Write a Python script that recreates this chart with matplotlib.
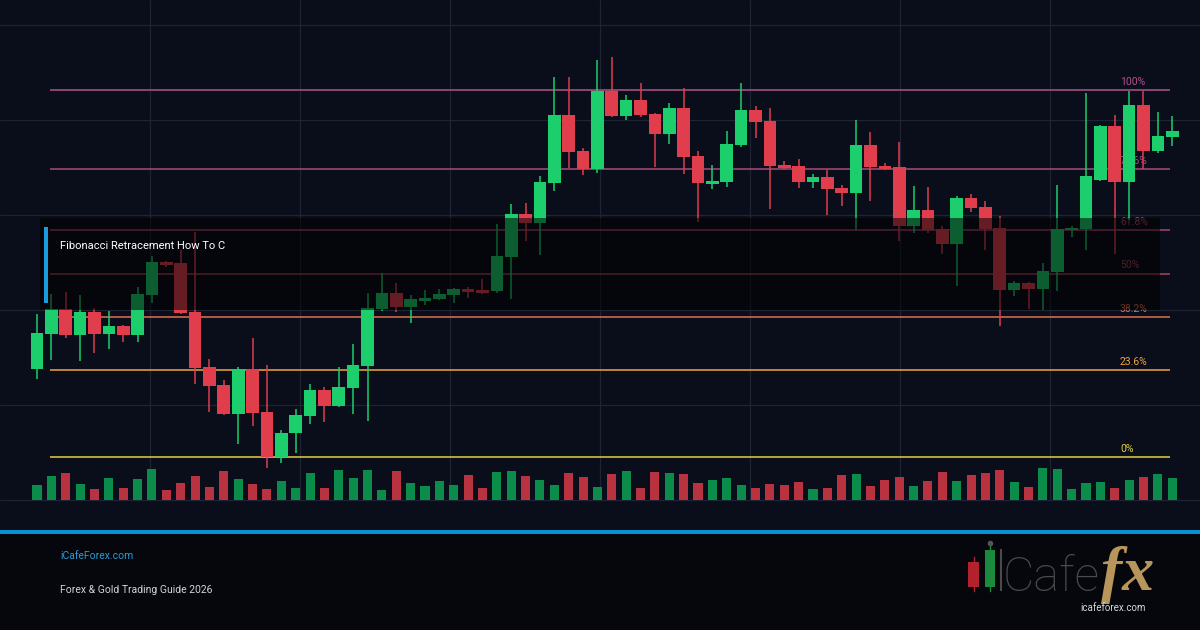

# candlestick chart with fibonacci retracement levels (icafeforex banner)
import numpy as np
import matplotlib
matplotlib.use("Agg")
import matplotlib.pyplot as plt
from matplotlib.patches import Rectangle
from matplotlib.transforms import blended_transform_factory

# DATA:
opens = [2131, 2166, 2191, 2165, 2188, 2166, 2174, 2165, 2205, 2238,
         2237, 2188, 2133, 2115, 2086, 2131, 2088, 2043, 2067, 2084,
         2110, 2094, 2112, 2134, 2191, 2207, 2193, 2199, 2201, 2205,
         2211, 2210, 2209, 2243, 2286, 2277, 2317, 2385, 2349, 2331,
         2409, 2384, 2400, 2386, 2366, 2392, 2344, 2316, 2318, 2355,
         2390, 2379, 2335, 2334, 2318, 2323, 2312, 2307, 2355, 2334,
         2333, 2274, 2290, 2271, 2256, 2302, 2293, 2272, 2210, 2217,
         2211, 2228, 2270, 2271, 2320, 2374, 2318, 2395, 2349, 2363]
closes = [2167, 2191, 2165, 2188, 2166, 2174, 2165, 2206, 2238, 2235,
          2187, 2132, 2114, 2086, 2131, 2087, 2043, 2067, 2085, 2110,
          2094, 2113, 2135, 2192, 2207, 2193, 2201, 2202, 2206, 2211,
          2208, 2207, 2244, 2286, 2277, 2318, 2385, 2348, 2331, 2409,
          2384, 2400, 2385, 2366, 2392, 2343, 2317, 2319, 2356, 2390,
          2378, 2334, 2332, 2318, 2323, 2311, 2307, 2355, 2333, 2331,
          2274, 2290, 2270, 2256, 2302, 2292, 2271, 2210, 2217, 2211,
          2229, 2271, 2272, 2324, 2374, 2318, 2395, 2349, 2364, 2369]
highs = [2186, 2206, 2208, 2205, 2192, 2189, 2175, 2213, 2244, 2239,
         2250, 2268, 2141, 2120, 2133, 2162, 2135, 2070, 2091, 2116,
         2113, 2133, 2156, 2207, 2227, 2217, 2205, 2210, 2211, 2212,
         2213, 2221, 2276, 2296, 2297, 2324, 2423, 2423, 2352, 2440,
         2443, 2405, 2417, 2387, 2397, 2412, 2349, 2335, 2369, 2417,
         2394, 2392, 2339, 2341, 2326, 2330, 2315, 2380, 2368, 2337,
         2358, 2314, 2313, 2274, 2304, 2306, 2299, 2284, 2219, 2218,
         2237, 2315, 2274, 2407, 2375, 2385, 2409, 2409, 2388, 2384]
lows = [2121, 2140, 2162, 2139, 2147, 2151, 2158, 2158, 2197, 2233,
        2186, 2116, 2088, 2085, 2056, 2074, 2032, 2037, 2047, 2076,
        2078, 2093, 2086, 2079, 2189, 2188, 2177, 2195, 2200, 2197,
        2202, 2206, 2207, 2201, 2259, 2245, 2309, 2332, 2325, 2327,
        2383, 2380, 2383, 2333, 2356, 2326, 2278, 2311, 2313, 2353,
        2362, 2291, 2331, 2312, 2312, 2285, 2294, 2270, 2299, 2330,
        2259, 2267, 2267, 2246, 2214, 2288, 2250, 2174, 2204, 2191,
        2190, 2209, 2263, 2250, 2319, 2246, 2280, 2331, 2347, 2354]
volume = [15, 24, 27, 16, 11, 22, 12, 21, 31, 10,
          17, 24, 13, 29, 21, 16, 11, 19, 12, 27,
          12, 30, 22, 30, 10, 29, 17, 14, 19, 15,
          25, 12, 28, 29, 24, 20, 15, 27, 23, 13,
          26, 29, 12, 28, 27, 26, 17, 20, 22, 15,
          12, 16, 15, 18, 11, 12, 25, 26, 14, 20,
          23, 14, 19, 28, 19, 25, 27, 30, 18, 13,
          32, 31, 11, 17, 18, 12, 20, 23, 26, 22]

fib_low = 2043
fib_high = 2410
fib_ratios = [0, 0.236, 0.382, 0.5, 0.618, 0.786, 1.0]
fib_labels = ["0%", "23.6%", "38.2%", "50%", "61.8%", "78.6%", "100%"]
fib_colors = ["#e6cf45", "#f0a63e", "#e2704c", "#a84456", "#a8466e", "#a94b7c", "#b0528c"]

grid_prices = [2475, 2380, 2285, 2190, 2095, 2000]

title = "Fibonacci Retracement How To C"
site = "iCafeForex.com"
subtitle = "Forex & Gold Trading Guide 2026"

# COLORS:
bg = "#0a0e1a"
footer_bg = "#05070d"
up_col = "#1ccf6c"
down_col = "#e03e4d"
vol_up = "#0c8c4b"
vol_down = "#b8333f"
grid_col = "#1e2434"

W, H = 1200, 630
step = 14.37      # px between candles
x0 = 37           # px of first candle

fig = plt.figure(figsize=(12, 6.3), dpi=100)
fig.patch.set_facecolor(bg)

# main price axes fills the whole figure
ax = fig.add_axes([0, 0, 1, 1])
ax.set_facecolor(bg)
ax.set_xlim(-x0 / step, (W - x0) / step)
ax.set_ylim(2500 - H, 2500)
ax.axis("off")

x = np.arange(len(opens))
o = np.array(opens, dtype=float)
c = np.array(closes, dtype=float)
up = c >= o
colors = np.where(up, up_col, down_col)

# grid
ax.hlines(grid_prices, 0, 1, transform=ax.get_yaxis_transform(), colors=grid_col, lw=0.9, zorder=0)
vx = np.arange(150, 1200, 150) / W
ax.vlines(vx, (H - 500) / H, 1, transform=ax.transAxes, colors=grid_col, lw=0.9, zorder=0)

# fibonacci levels
trans = blended_transform_factory(ax.transAxes, ax.transData)
for r, lab, col in zip(fib_ratios, fib_labels, fib_colors):
    lvl = fib_low + r * (fib_high - fib_low)
    ax.hlines(lvl, 50 / W, 1170 / W, transform=trans, colors=col, lw=1.1, zorder=1)
    ax.text(1120 / W, lvl + 8, lab, transform=trans, color=col, fontsize=7.5,
            family="Roboto", va="center", ha="left", zorder=1.5)

# candles
ax.vlines(x, lows, highs, colors=colors, lw=1.1, zorder=2)
body = np.maximum(np.abs(c - o), 1.5)
ax.bar(x, body, bottom=np.minimum(o, c), width=0.88, color=colors, zorder=3)

# volume
vax = fig.add_axes([0, (H - 500) / H, 1, 100 / H])
vax.set_xlim(ax.get_xlim())
vax.set_ylim(0, 100)
vax.axis("off")
vax.patch.set_alpha(0)
vax.bar(x, volume, width=0.63, color=np.where(up, vol_up, vol_down))

# overlay / decorations in pixel coordinates
dax = fig.add_axes([0, 0, 1, 1])
dax.set_xlim(0, W)
dax.set_ylim(H, 0)
dax.axis("off")
dax.patch.set_alpha(0)

dax.add_patch(Rectangle((40, 218), 1120, 92, color="black", alpha=0.55, lw=0))
dax.add_patch(Rectangle((44, 227), 4, 76, color="#1a9bdc", lw=0))
dax.text(60, 246, title, color="white", fontsize=8, family="Roboto", va="center")

# footer
dax.add_patch(Rectangle((0, 530), W, 100, color=footer_bg, lw=0))
dax.add_patch(Rectangle((0, 530), W, 4, color="#0b8ed2", lw=0))
dax.text(60, 556, site, color="#2a9ad8", fontsize=7.5, family="Roboto", va="center")
dax.text(60, 590, subtitle, color="#d4d4d4", fontsize=7.5, family="Roboto", va="center")

# logo
dax.add_patch(Rectangle((968, 562), 11, 25, color="#b3202e", lw=0))
dax.plot([973.5, 973.5], [557, 591], color="#b3202e", lw=1)
dax.add_patch(Rectangle((985, 550), 10, 37, color="#1a8b3c", lw=0))
dax.plot([990, 990], [543, 591], color="#1a8b3c", lw=1)
dax.plot([990], [543], "o", color="#555555", ms=3)
dax.plot([1001, 1001], [550, 590], color="#4a4a4a", lw=1.5)
dax.text(1003, 591, "Cafe", color="#4a4a4a", fontsize=35, family="Roboto",
         fontweight="light", va="baseline")
dax.text(1101, 590, "fx", color="#b8955a", fontsize=46, family="Liberation Serif",
         fontweight="bold", style="italic", va="baseline")
dax.text(1113, 608, "icafeforex.com", color="#d8d8d8", fontsize=7, family="Roboto",
         ha="center", va="center")

fig.savefig("out.png", dpi=100, facecolor=bg)
